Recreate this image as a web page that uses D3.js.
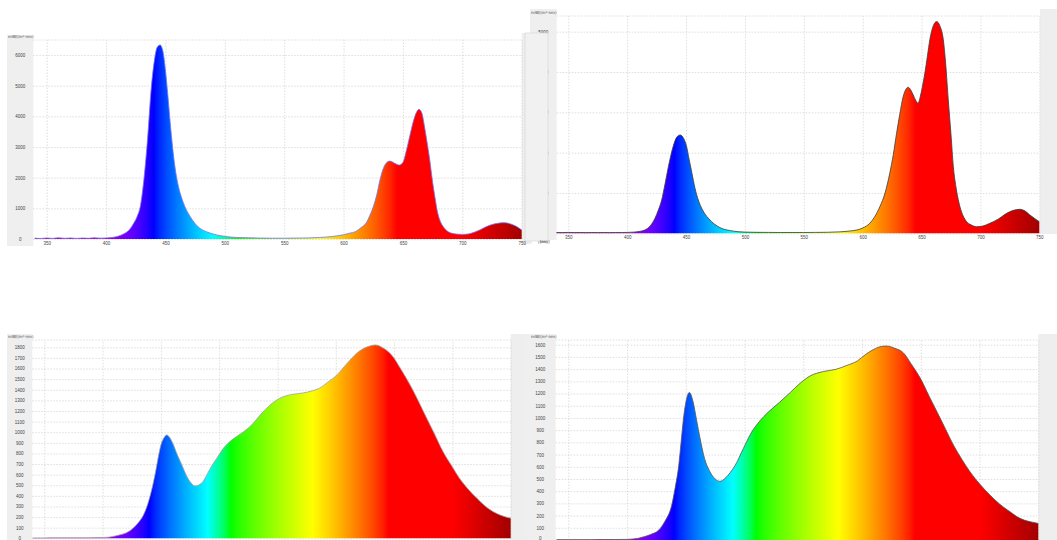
<!DOCTYPE html>
<html>
<head>
<meta charset="utf-8">
<title>Spectra</title>
<script src="https://cdn.jsdelivr.net/npm/d3@7"></script>
<style>
html, body { margin: 0; background: #fff; }
svg { display: block; font-family: "DejaVu Sans", sans-serif; }
.grid line { stroke: #d6d6d6; stroke-dasharray: 1.5 1.5; stroke-width: 0.8; }
.grid path { display: none; }
.lbl path, .lbl line { display: none; }
.lbl text { font-size: 4.5px; fill: #444; }
.unit { font-size: 4px; fill: #444; }
</style>
</head>
<body>
<svg width="1057" height="540"></svg>
<script>
// wavelength ticks, shared by all four spectra
var xTicks = [350, 400, 450, 500, 550, 600, 650, 700, 750];

var tlYTicks = [0, 1000, 2000, 3000, 4000, 5000, 6000];
var trYTicks = [0, 1000, 2000, 3000, 4000, 5000];
var blYTicks = [0, 100, 200, 300, 400, 500, 600, 700, 800, 900, 1000, 1100, 1200, 1300, 1400, 1500, 1600, 1700, 1800];
var brYTicks = [0, 100, 200, 300, 400, 500, 600, 700, 800, 900, 1000, 1100, 1200, 1300, 1400, 1500, 1600];

// [nm, value]
var tlSpectrum = [[340,30],[345,15],[350,35],[355,20],[360,40],[365,22],[370,35],[375,20],[380,32],[385,24],[390,40],[395,28],[400,35],[405,50],[410,90],[415,170],[420,320],[423,500],[426,720],[429,1100],[432,2000],[435,3300],[438,4900],[441,5900],[443,6250],[445.5,6330],[448,6100],[450,5500],[452,4700],[454,3800],[456,3000],[458,2350],[461,1700],[464,1300],[467,1000],[471,720],[475,500],[479,350],[485,230],[490,165],[496,110],[502,75],[510,50],[520,40],[530,30],[540,25],[550,25],[560,30],[570,35],[580,50],[590,80],[600,140],[605,190],[610,240],[615,380],[619,520],[622,760],[625,1050],[628,1450],[630.5,1900],[633,2250],[636,2480],[639,2540],[643,2470],[647,2410],[650,2500],[653,2900],[656,3400],[658.5,3800],[661,4100],[663.5,4230],[666,4100],[668,3700],[670,3230],[672.5,2600],[675,1850],[677,1350],[679,900],[681,620],[684,400],[687,270],[690,200],[695,160],[700,150],[705,165],[710,220],[715,300],[720,400],[725,470],[730,515],[735.5,531],[740,500],[745,420],[750,293]];

var trSpectrum = [[340,20],[345,18],[350,22],[355,18],[360,20],[365,17],[370,20],[375,18],[380,20],[385,18],[390,20],[395,20],[400,22],[405,28],[410,45],[415,82],[420,200],[423.6,372],[426.5,580],[429.3,826],[432,1200],[435,1653],[439,2149],[442,2380],[445,2439],[448,2350],[450.5,2149],[452.5,1850],[455,1489],[457.5,1130],[460.4,826],[464,580],[469,372],[474,230],[480,124],[487,70],[494,40],[500,30],[510,24],[520,22],[530,20],[540,20],[550,20],[560,22],[570,25],[580,35],[590,60],[595,82],[600,130],[606,248],[610,400],[614.6,660],[619,1000],[623,1489],[626,1950],[628.8,2481],[631.5,2950],[634.4,3390],[636.5,3560],[638.6,3623],[640.7,3560],[642.9,3432],[645,3300],[647,3226],[649,3400],[650.8,3650],[652.8,3970],[655,4400],[657,4797],[660,5150],[662.8,5251],[665.5,5150],[668.5,4797],[670.5,4200],[672.7,3308],[675,2450],[677,1653],[679.5,1100],[682.6,660],[685.5,420],[688.3,288],[692,210],[696.8,164],[702,180],[708,248],[715,350],[722.3,496],[728,570],[733.6,595],[738,550],[742,454],[746,370],[750,288]];

var blSpectrum = [[340,4],[350,4],[360,5],[370,5],[380,5],[390,6],[400,7],[405,10],[410,20],[415,33],[420,50],[426,94],[430,140],[435,220],[440,370],[443,500],[446,660],[448,780],[450,880],[452.5,945],[455,974],[457.5,950],[460,900],[464,790],[468,690],[472,590],[476,520],[479,493],[483,505],[486,534],[490,610],[494,690],[498,755],[503,840],[509,911],[515,960],[521,1005],[528,1070],[535,1160],[543,1250],[552,1320],[562,1355],[572,1370],[580,1390],[586,1414],[593,1470],[601,1540],[609,1640],[618,1745],[626,1800],[634,1822],[641,1790],[649,1712],[656,1590],[664,1440],[671,1290],[678,1131],[685,975],[692,816],[699,690],[706,566],[713,470],[721,377],[728,305],[735,251],[742,215],[750,189]];

var brSpectrum = [[340,3],[350,3],[360,3],[370,3],[380,4],[390,4],[400,5],[405,8],[410,15],[415,28],[420,45],[427,81],[432,150],[438,285],[441,430],[444,611],[446,800],[448,992],[450.5,1150],[453,1209],[456,1140],[459,992],[462,840],[466,666],[470,570],[475,500],[479,481],[484,510],[488,555],[492,611],[499,750],[506,883],[513,975],[520,1046],[530,1130],[539,1209],[548,1290],[556,1345],[567,1380],[578,1399],[587,1430],[596,1467],[603,1520],[610,1562],[616,1585],[621,1589],[628,1570],[635,1535],[642,1440],[650,1318],[657,1180],[664,1046],[671,910],[678,774],[685,660],[692,557],[700,460],[709,367],[717,295],[726,231],[732,190],[738,163],[744,148],[750,136]];

var unitLabel = "mW/(m²·nm)";
var nmLabel = "[nm]";

var svg = d3.select("svg");

// wavelength -> visible colour (Bruton style)
function nmColor(w) {
  var r = 0, g = 0, b = 0;
  if (w < 440) { r = Math.min(1, (440 - w) / 60); b = 1; }
  else if (w < 490) { g = (w - 440) / 50; b = 1; }
  else if (w < 510) { g = 1; b = (510 - w) / 20; }
  else if (w < 580) { r = (w - 510) / 70; g = 1; }
  else if (w < 645) { r = 1; g = (645 - w) / 65; }
  else { r = 1; }
  var f = 1;
  if (w < 420) f = Math.max(0.6, 0.6 + 0.4 * (w - 380) / 40);
  else if (w > 700) f = 0.3 + 0.7 * (780 - w) / 80;
  function c(v) { return Math.round(255 * Math.pow(v * f, 0.8)); }
  return d3.rgb(c(r), c(g), c(b)).formatHex();
}

var panels = [
  { id: "tl", data: tlSpectrum, yTicks: tlYTicks, yMax: 6000,
    x350: 46.7, x750: 521.7, y0: 239, yTop: 55, plotLeft: 33.3, plotTop: 40,
    strip: [7, 35, 26.3, 211], rstrip: [521.7, 33, 10, 211], stroke: "#7474ee",
    unit: [8, 38], nm: [538, 243], xLabels: true },
  { id: "tr", data: trSpectrum, yTicks: trYTicks, yMax: 5000,
    x350: 568.3, x750: 1039.3, y0: 233.3, yTop: 31.7, plotLeft: 556.7, plotTop: 16,
    strip: [530, 9, 26.7, 231], rstrip: [1040, 9, 17, 225], stroke: "#3a3a3a",
    unit: [531, 14], nm: [540, 243], cover: [525, 33, 23, 208], xLabels: true },
  { id: "bl", data: blSpectrum, yTicks: blYTicks, yMax: 1800,
    x350: 44.3, x750: 510.7, y0: 538.3, yTop: 347.3, plotLeft: 32.3, plotTop: 340,
    strip: [7, 334, 25.3, 210], rstrip: [510.7, 334, 20, 210], stroke: "#a0a0a0",
    unit: [8, 338], xLabels: false },
  { id: "br", data: brSpectrum, yTicks: brYTicks, yMax: 1600,
    x350: 568.3, x750: 1038.3, y0: 540, yTop: 344.7, plotLeft: 555.7, plotTop: 340,
    strip: [525, 334, 30.7, 210], rstrip: [1038.3, 334, 19, 210], stroke: "#555",
    unit: [531, 338], xLabels: false }
];

var defs = svg.append("defs");

panels.forEach(function(p) {
  var x = d3.scaleLinear().domain([350, 750]).range([p.x350, p.x750]);
  var y = d3.scaleLinear().domain([0, p.yMax]).range([p.y0, p.yTop]);
  var g = svg.append("g").attr("class", "panel-" + p.id);

  // grey label strips
  g.append("rect").attr("x", p.strip[0]).attr("y", p.strip[1])
    .attr("width", p.strip[2]).attr("height", p.strip[3]).attr("fill", "#efefef");
  g.append("rect").attr("x", p.rstrip[0]).attr("y", p.rstrip[1])
    .attr("width", p.rstrip[2]).attr("height", p.rstrip[3]).attr("fill", "#eeeeee");

  // grid
  g.append("g").attr("class", "grid")
    .attr("transform", "translate(0," + p.y0 + ")")
    .call(d3.axisBottom(x).tickValues(xTicks).tickSize(-(p.y0 - p.plotTop)).tickFormat(""));
  g.append("g").attr("class", "grid")
    .attr("transform", "translate(" + p.plotLeft + ",0)")
    .call(d3.axisRight(y).tickValues(p.yTicks).tickSize(p.x750 - p.plotLeft).tickFormat(""));
  g.append("line").attr("x1", p.plotLeft).attr("x2", p.x750)
    .attr("y1", p.plotTop).attr("y2", p.plotTop)
    .attr("stroke", "#d6d6d6").attr("stroke-dasharray", "1.5 1.5").attr("stroke-width", 0.8);

  // spectrum gradient
  var grad = defs.append("linearGradient").attr("id", "grad-" + p.id)
    .attr("gradientUnits", "userSpaceOnUse")
    .attr("x1", x(340)).attr("x2", x(750)).attr("y1", 0).attr("y2", 0);
  d3.range(340, 751, 5).forEach(function(w) {
    grad.append("stop").attr("offset", (w - 340) / 410).attr("stop-color", nmColor(w));
  });

  var area = d3.area().curve(d3.curveMonotoneX)
    .x(function(d) { return x(d[0]); })
    .y0(p.y0)
    .y1(function(d) { return y(d[1]); });
  var line = d3.line().curve(d3.curveMonotoneX)
    .x(function(d) { return x(d[0]); })
    .y(function(d) { return y(d[1]); });

  g.append("path").datum(p.data).attr("d", area).attr("fill", "url(#grad-" + p.id + ")");
  g.append("path").datum(p.data).attr("d", line)
    .attr("fill", "none").attr("stroke", p.stroke).attr("stroke-width", 0.8);

  // tick labels
  var yl = g.append("g").attr("class", "lbl")
    .attr("transform", "translate(" + (p.strip[0] + p.strip[2] / 2) + ",0)")
    .call(d3.axisLeft(y).tickValues(p.yTicks).tickSize(0).tickPadding(0).tickFormat(d3.format("d")));
  yl.selectAll("text").attr("text-anchor", "middle").attr("x", 0)
    .attr("dy", function(d) { return d === 0 && p.y0 >= 539 ? "-0.1em" : "0.32em"; });
  if (p.xLabels) {
    g.append("g").attr("class", "lbl")
      .attr("transform", "translate(0," + (p.y0 + 2.5) + ")")
      .call(d3.axisBottom(x).tickValues(xTicks).tickSize(0).tickPadding(0).tickFormat(d3.format("d")));
  }

  if (p.cover) {
    g.append("rect").attr("x", p.cover[0]).attr("y", p.cover[1])
      .attr("width", p.cover[2]).attr("height", p.cover[3])
      .attr("fill", "#f1f1f1").attr("stroke", "#d4d4d4").attr("stroke-width", 0.6);
  }

  g.append("text").attr("class", "unit").attr("x", p.unit[0]).attr("y", p.unit[1]).text(unitLabel);
  if (p.nm) {
    g.append("text").attr("class", "unit").attr("x", p.nm[0]).attr("y", p.nm[1]).text(nmLabel);
  }
});
</script>
</body>
</html>
